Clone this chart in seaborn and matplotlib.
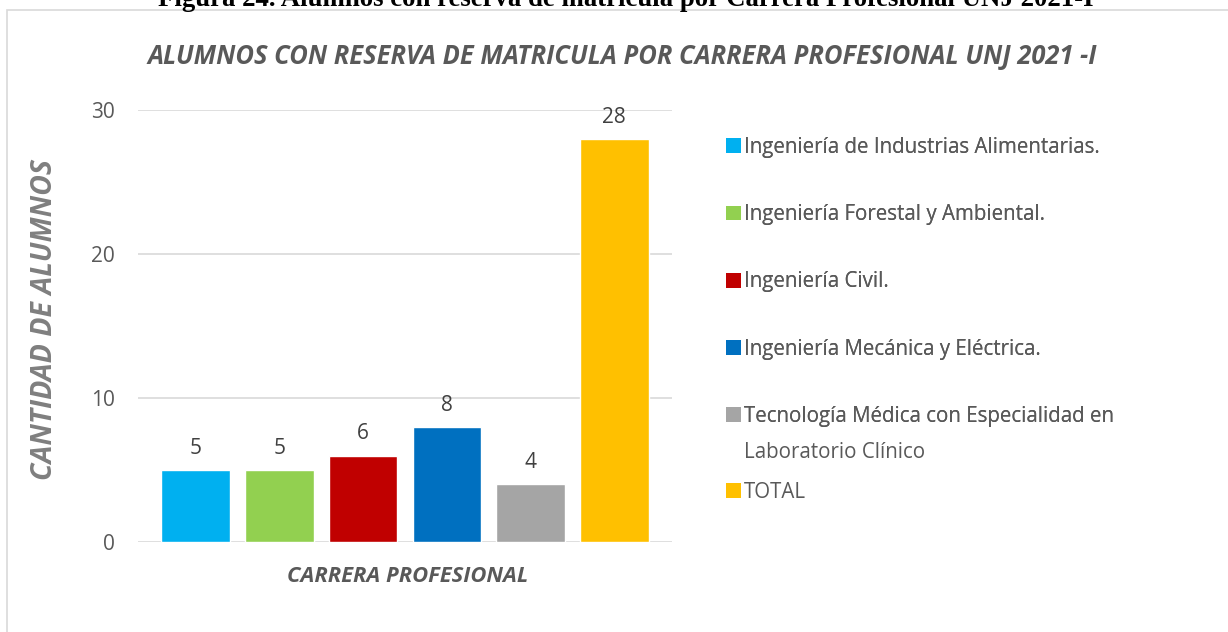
import matplotlib
matplotlib.use("Agg")
import matplotlib.pyplot as plt
import seaborn as sns
import pandas as pd
from matplotlib.patches import Patch, Rectangle

# datos
carreras = [
    "Ingeniería de Industrias Alimentarias.",
    "Ingeniería Forestal y Ambiental.",
    "Ingeniería Civil.",
    "Ingeniería Mecánica y Eléctrica.",
    "Tecnología Médica con Especialidad en Laboratorio Clínico",
    "TOTAL",
]
alumnos = [5, 5, 6, 8, 4, 28]
colores = ["#00b0f0", "#92d050", "#c00000", "#0070c0", "#a5a5a5", "#ffc000"]

df = pd.DataFrame({"carrera": carreras, "alumnos": alumnos})

sns.set_style("white")
plt.rcParams["font.family"] = ["Open Sans", "DejaVu Sans"]

gris = "#595959"

fig = plt.figure(figsize=(12.28, 6.32), dpi=100)
ax = fig.add_axes([138 / 1228, 1 - 542 / 632, (672 - 138) / 1228, (542 - 110) / 632])

sns.barplot(data=df, x="carrera", y="alumnos", hue="carrera", palette=colores,
            width=0.82, legend=False, ax=ax, saturation=1)

for cont in ax.containers:
    ax.bar_label(cont, padding=8, fontsize=15, color="#404040")

ax.set_ylim(0, 30)
ax.set_yticks([0, 10, 20, 30])
ax.set_xlim(-0.69, 5.69)
ax.set_xticks([])
ax.set_xlabel("")
ax.set_ylabel("")
ax.grid(axis="y", color="#d9d9d9", linewidth=1.2)
ax.set_axisbelow(True)
for s in ax.spines.values():
    s.set_visible(False)
ax.tick_params(axis="y", length=0, pad=16.5, labelsize=15, labelcolor=gris)

# textos
fig.text(622 / 1228, 1 - 57 / 632, "ALUMNOS CON RESERVA DE MATRICULA POR CARRERA PROFESIONAL UNJ 2021 -I",
         ha="center", va="center", fontsize=18.4, fontweight="bold", fontstyle="italic", color=gris)
fig.text(45 / 1228, 1 - 320 / 632, "CANTIDAD DE ALUMNOS", rotation=90, ha="center", va="center",
         fontsize=20.5, fontweight="bold", fontstyle="italic", color="#7f7f7f")
fig.text(408 / 1228, 1 - 576 / 632, "CARRERA PROFESIONAL", ha="center", va="center",
         fontsize=15.8, fontweight="bold", fontstyle="italic", color=gris)
fig.text(626 / 1228, 1 - 6 / 632,
         "Figura 24. Alumnos con reserva de matrícula por Carrera Profesional UNJ 2021-I",
         ha="center", va="baseline", fontsize=19.3, fontweight="bold",
         family="Liberation Serif", color="black")

# marco del gráfico
fig.patches.append(Rectangle((7 / 1228, -0.05), 1.1, 1 - 10 / 632 + 0.05,
                             transform=fig.transFigure, fill=False,
                             edgecolor="#d9d9d9", linewidth=1.2))

# leyenda
h1 = [Patch(facecolor=c, edgecolor="none") for c in colores[:5]]
l1 = carreras[:4] + ["Tecnología Médica con Especialidad en"]
estilo = dict(loc="upper left", frameon=False, fontsize=14.8, labelcolor=gris,
              handlelength=0.72, handleheight=0.72, handletextpad=0.15,
              borderpad=0, borderaxespad=0)
leg1 = fig.legend(h1, l1, bbox_to_anchor=(726 / 1228, 1 - 137 / 632),
                  labelspacing=2.25, **estilo)
h2 = [Patch(facecolor="none", edgecolor="none"), Patch(facecolor=colores[5], edgecolor="none")]
leg2 = fig.legend(h2, ["Laboratorio Clínico", "TOTAL"],
                  bbox_to_anchor=(726 / 1228, 1 - 442 / 632),
                  labelspacing=0.9, **estilo)
fig.add_artist(leg1)

fig.savefig("out.png", dpi=100)
